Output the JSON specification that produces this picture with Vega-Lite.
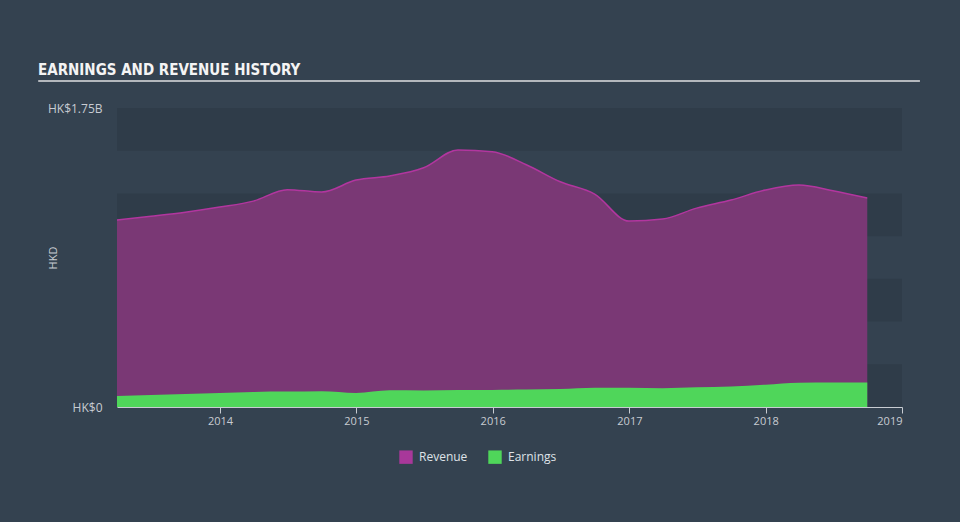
{
  "$schema": "https://vega.github.io/schema/vega-lite/v6.json",
  "width": 785,
  "height": 299,
  "autosize": {"type": "none"},
  "padding": {"left": 117, "top": 108, "right": 58, "bottom": 115},
  "background": "#344250",
  "config": {
    "view": {"stroke": null},
    "font": "Open Sans"
  },
  "title": {
    "text": "EARNINGS AND REVENUE HISTORY",
    "anchor": "start",
    "frame": "group",
    "dx": -79,
    "offset": 2,
    "font": "'Liberation Sans Narrow', 'Arial Narrow', 'DejaVu Sans Condensed', sans-serif",
    "fontWeight": "bold",
    "fontSize": 15,
    "color": "#f4f4f4"
  },
  "datasets": {
    "bands": [
      {"y0": 0, "y1": 250000000},
      {"y0": 500000000, "y1": 750000000},
      {"y0": 1000000000, "y1": 1250000000},
      {"y0": 1500000000, "y1": 1750000000}
    ],
    "history": [
      {"date": "2013-03-31", "series": "Revenue", "value": 1094000000},
      {"date": "2013-06-30", "series": "Revenue", "value": 1116000000},
      {"date": "2013-09-30", "series": "Revenue", "value": 1140000000},
      {"date": "2013-12-31", "series": "Revenue", "value": 1170000000},
      {"date": "2014-03-31", "series": "Revenue", "value": 1205000000},
      {"date": "2014-06-30", "series": "Revenue", "value": 1272000000},
      {"date": "2014-09-30", "series": "Revenue", "value": 1258000000},
      {"date": "2014-12-31", "series": "Revenue", "value": 1328000000},
      {"date": "2015-03-31", "series": "Revenue", "value": 1352000000},
      {"date": "2015-06-30", "series": "Revenue", "value": 1400000000},
      {"date": "2015-09-30", "series": "Revenue", "value": 1504000000},
      {"date": "2015-12-31", "series": "Revenue", "value": 1494000000},
      {"date": "2016-03-31", "series": "Revenue", "value": 1418000000},
      {"date": "2016-06-30", "series": "Revenue", "value": 1318000000},
      {"date": "2016-09-30", "series": "Revenue", "value": 1246000000},
      {"date": "2016-12-31", "series": "Revenue", "value": 1088000000},
      {"date": "2017-03-31", "series": "Revenue", "value": 1100000000},
      {"date": "2017-06-30", "series": "Revenue", "value": 1164000000},
      {"date": "2017-09-30", "series": "Revenue", "value": 1211000000},
      {"date": "2017-12-31", "series": "Revenue", "value": 1270000000},
      {"date": "2018-03-31", "series": "Revenue", "value": 1299000000},
      {"date": "2018-06-30", "series": "Revenue", "value": 1266000000},
      {"date": "2018-09-30", "series": "Revenue", "value": 1223000000},
      {"date": "2013-03-31", "series": "Earnings", "value": 65000000},
      {"date": "2013-06-30", "series": "Earnings", "value": 70000000},
      {"date": "2013-09-30", "series": "Earnings", "value": 76000000},
      {"date": "2013-12-31", "series": "Earnings", "value": 82000000},
      {"date": "2014-03-31", "series": "Earnings", "value": 88000000},
      {"date": "2014-06-30", "series": "Earnings", "value": 90000000},
      {"date": "2014-09-30", "series": "Earnings", "value": 92000000},
      {"date": "2014-12-31", "series": "Earnings", "value": 82000000},
      {"date": "2015-03-31", "series": "Earnings", "value": 98000000},
      {"date": "2015-06-30", "series": "Earnings", "value": 97000000},
      {"date": "2015-09-30", "series": "Earnings", "value": 100000000},
      {"date": "2015-12-31", "series": "Earnings", "value": 100000000},
      {"date": "2016-03-31", "series": "Earnings", "value": 102000000},
      {"date": "2016-06-30", "series": "Earnings", "value": 105000000},
      {"date": "2016-09-30", "series": "Earnings", "value": 112000000},
      {"date": "2016-12-31", "series": "Earnings", "value": 112000000},
      {"date": "2017-03-31", "series": "Earnings", "value": 110000000},
      {"date": "2017-06-30", "series": "Earnings", "value": 115000000},
      {"date": "2017-09-30", "series": "Earnings", "value": 120000000},
      {"date": "2017-12-31", "series": "Earnings", "value": 130000000},
      {"date": "2018-03-31", "series": "Earnings", "value": 142000000},
      {"date": "2018-06-30", "series": "Earnings", "value": 143000000},
      {"date": "2018-09-30", "series": "Earnings", "value": 144000000}
    ]
  },
  "layer": [
    {
      "data": {"name": "bands"},
      "mark": {"type": "rect", "fill": "#2f3c49"},
      "encoding": {
        "y": {"field": "y0", "type": "quantitative", "scale": {"domain": [0, 1750000000]}},
        "y2": {"field": "y1"}
      }
    },
    {
      "data": {"name": "history"},
      "transform": [{"filter": "datum.series === 'Revenue'"}],
      "mark": {"type": "area", "interpolate": "monotone", "fill": "#7a3875"},
      "encoding": {
        "x": {"field": "date", "type": "temporal"},
        "y": {"field": "value", "type": "quantitative", "stack": null}
      }
    },
    {
      "data": {"name": "history"},
      "transform": [{"filter": "datum.series === 'Revenue'"}],
      "mark": {"type": "line", "interpolate": "monotone", "stroke": "#b2369f", "strokeWidth": 1.5},
      "encoding": {
        "x": {"field": "date", "type": "temporal"},
        "y": {"field": "value", "type": "quantitative"}
      }
    },
    {
      "data": {"name": "history"},
      "transform": [{"filter": "datum.series === 'Earnings'"}],
      "mark": {"type": "area", "interpolate": "monotone"},
      "encoding": {
        "x": {"field": "date", "type": "temporal"},
        "y": {"field": "value", "type": "quantitative", "stack": null},
        "color": {
          "field": "series",
          "type": "nominal",
          "scale": {"domain": ["Revenue", "Earnings"], "range": ["#a8389a", "#4fd65a"]},
          "legend": {
            "title": null,
            "orient": "none",
            "legendX": 282,
            "legendY": 342,
            "direction": "horizontal",
            "symbolType": "square",
            "symbolSize": 180,
            "symbolOpacity": 1,
            "symbolStrokeWidth": 0,
            "labelColor": "#dfe3e8",
            "labelFont": "Open Sans",
            "labelFontSize": 12,
            "labelOffset": 6,
            "columnPadding": 20
          }
        }
      }
    },
    {
      "data": {"name": "history"},
      "transform": [{"filter": "datum.series === 'Revenue'"}],
      "mark": {"type": "area", "opacity": 0},
      "encoding": {
        "x": {"field": "date", "type": "temporal"},
        "y": {"field": "value", "type": "quantitative", "stack": null},
        "color": {"field": "series", "type": "nominal"}
      }
    },
    {
      "data": {"values": [{}]},
      "mark": {"type": "rule", "stroke": "#b4b8bd", "strokeWidth": 2},
      "encoding": {
        "x": {"datum": {"year": 2012, "month": 9, "date": 1}, "type": "temporal"},
        "x2": {"datum": {"year": 2019, "month": 2, "date": 18}},
        "y": {"datum": 1908000000, "type": "quantitative"}
      }
    }
  ],
  "resolve": {"scale": {"x": "shared", "y": "shared"}},
  "encoding": {
    "x": {
      "type": "temporal",
      "scale": {"domain": ["2013-03-31", "2019-01-01"]},
      "axis": {
        "title": null,
        "format": "%Y",
        "tickCount": {"interval": "year", "step": 1},
        "grid": false,
        "domainColor": "#c8ccd2",
        "tickColor": "#c8ccd2",
        "tickSize": 6,
        "labelColor": "#c8ccd2",
        "labelFontSize": 11,
        "labelPadding": 2
      }
    },
    "y": {
      "type": "quantitative",
      "scale": {"domain": [0, 1750000000]},
      "axis": {
        "title": "HKD",
        "titleColor": "#c8ccd2",
        "titleFontSize": 11,
        "titleFontWeight": "normal",
        "titleX": -64,
        "titleBaseline": "middle",
        "values": [0, 1750000000],
        "labelExpr": "datum.value === 0 ? 'HK$0' : 'HK$1.75B'",
        "labelColor": "#c8ccd2",
        "labelFontSize": 12,
        "labelPadding": 15,
        "grid": false,
        "domain": false,
        "ticks": false
      }
    }
  }
}
